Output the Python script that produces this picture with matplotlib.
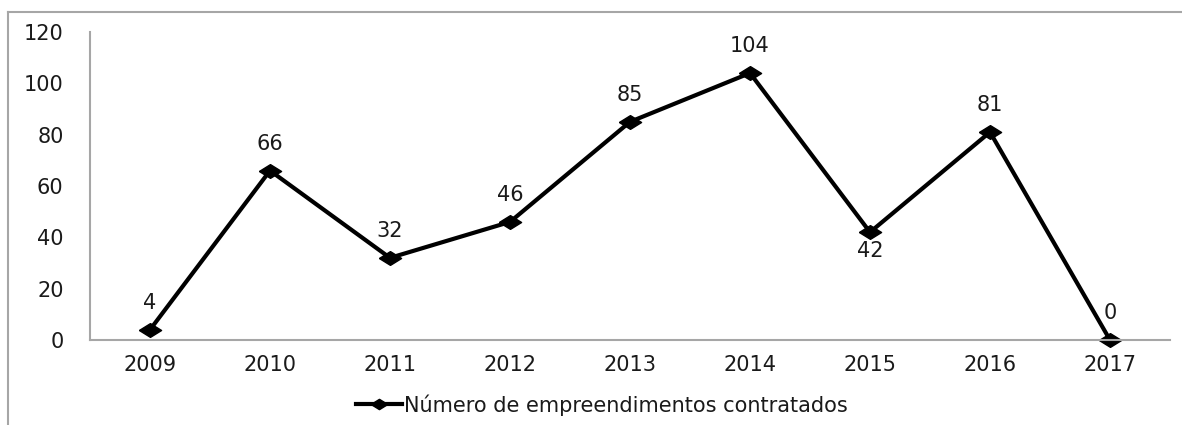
import numpy as np
import matplotlib
matplotlib.use("Agg")
import matplotlib.pyplot as plt
from matplotlib.lines import Line2D

# dados do grafico
anos = ['2009', '2010', '2011', '2012', '2013', '2014', '2015', '2016', '2017']
contratados = [4, 66, 32, 46, 85, 104, 42, 81, 0]
rotulo = 'Número de empreendimentos contratados'

plt.rcParams['font.family'] = ['DejaVu Sans']
cor_texto = '#1a1a1a'
cor_eixo = '#a6a6a6'
fs = 15

fig = plt.figure(figsize=(11.82, 4.25), dpi=100)
ax = fig.add_axes([90 / 1182, 85 / 425, 1080 / 1182, 308 / 425])

# losango mais largo que alto, como no original
losango = [(-1, 0), (0, 0.62), (1, 0), (0, -0.62), (-1, 0)]

x = np.arange(len(anos))
ax.plot(x, contratados, color='black', lw=3, marker=losango, ms=16,
        label=rotulo, clip_on=False)

for xi, v in zip(x, contratados):
    dy = -19 if v == 42 else 27
    ax.annotate(str(v), (xi, v), xytext=(0, dy), textcoords='offset pixels',
                ha='center', va='center', fontsize=fs, color=cor_texto)

ax.set_xlim(-0.5, len(anos) - 0.5)
ax.set_ylim(0, 120)
ax.set_yticks(np.arange(0, 121, 20))
ax.set_xticks(x)
ax.set_xticklabels(anos)
ax.tick_params(length=0, labelsize=fs, labelcolor=cor_texto)
ax.tick_params(axis='y', pad=19)
ax.tick_params(axis='x', pad=11)

for lado in ['top', 'right']:
    ax.spines[lado].set_visible(False)
for lado in ['left', 'bottom']:
    ax.spines[lado].set_color(cor_eixo)
    ax.spines[lado].set_linewidth(1.5)

leg = fig.legend(loc='center', bbox_to_anchor=(602 / 1182, 1 - 405 / 425),
                 frameon=False, fontsize=fs, handlelength=2.2,
                 handletextpad=0.1, markerscale=0.75)
for t in leg.get_texts():
    t.set_color(cor_texto)

# moldura do grafico (so esquerda e topo aparecem)
fig.add_artist(Line2D([8 / 1182, 8 / 1182], [0, 1 - 12 / 425],
                      transform=fig.transFigure, color=cor_eixo, lw=1.5))
fig.add_artist(Line2D([8 / 1182, 1], [1 - 12 / 425, 1 - 12 / 425],
                      transform=fig.transFigure, color=cor_eixo, lw=1.5))

fig.savefig('out.png', dpi=100)
